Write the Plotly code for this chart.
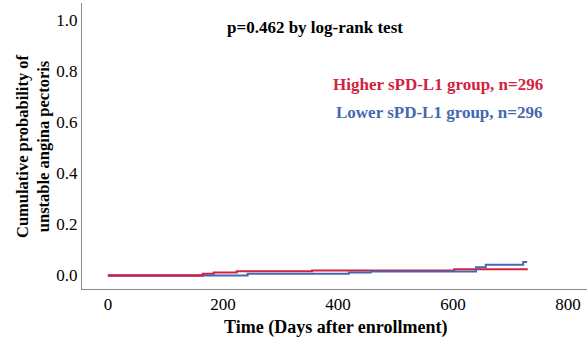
import plotly.graph_objects as go

# Step data (days, cumulative probability)
higher_days = [0, 165, 184, 224, 355, 602, 730]
higher_vals = [0.0, 0.006, 0.011, 0.016, 0.019, 0.024, 0.024]
lower_days = [0, 243, 419, 457, 640, 657, 722, 729]
lower_vals = [0.0, 0.006, 0.011, 0.015, 0.032, 0.042, 0.052, 0.052]

x_ticks = [0, 200, 400, 600, 800]
y_ticks = [0.0, 0.2, 0.4, 0.6, 0.8, 1.0]

RED = "#d3223f"
BLUE = "#4767b0"
FONT = "Liberation Serif"

fig = go.Figure()
fig.add_trace(go.Scatter(x=higher_days, y=higher_vals, mode="lines",
                         line=dict(color=RED, width=2, shape="hv"), showlegend=False))
fig.add_trace(go.Scatter(x=lower_days, y=lower_vals, mode="lines",
                         line=dict(color=BLUE, width=2, shape="hv"), showlegend=False))
fig.add_trace(go.Scatter(x=higher_days[:2], y=higher_vals[:2], mode="lines",
                         line=dict(color=RED, width=2, shape="hv"), showlegend=False))

fig.update_layout(
    width=587, height=343,
    margin=dict(l=82, r=0, t=3, b=54),
    paper_bgcolor="white", plot_bgcolor="white",
    font=dict(family=FONT, size=17, color="black"),
    xaxis=dict(range=[-45, 833], tickvals=x_ticks, ticktext=[str(v) for v in x_ticks],
               showgrid=False, zeroline=False, showline=True, linecolor="#8a8a8a",
               linewidth=1, ticks="", tickfont=dict(family=FONT, size=17)),
    yaxis=dict(range=[-0.0533, 1.067], tickvals=y_ticks, ticktext=[f"{v:.1f}" for v in y_ticks],
               showgrid=False, zeroline=False, showline=True, linecolor="#8a8a8a",
               linewidth=1, ticks="", tickfont=dict(family=FONT, size=17)),
    annotations=[
        dict(text="<b>Time (Days after enrollment)</b>", xref="paper", yref="paper",
             x=(335 - 82) / 505, y=0, yshift=-38, xanchor="center", yanchor="middle",
             showarrow=False, font=dict(family=FONT, size=18)),
        dict(text="<b>Cumulative probability of<br>unstable angina pectoris</b>", textangle=-90,
             xref="paper", yref="paper", x=0, y=0.5, xshift=-49, xanchor="center", yanchor="middle",
             showarrow=False, font=dict(family=FONT, size=16.5), align="center"),
        dict(text="<b>p=0.462 by log-rank test</b>", xref="paper", yref="paper",
             x=(315 - 82) / 505, y=(289 - 27) / 286, xanchor="center", yanchor="middle",
             showarrow=False, font=dict(family=FONT, size=17)),
        dict(text="<b>Higher sPD-L1 group, n=296</b>", xref="paper", yref="paper",
             x=(438 - 82) / 505, y=(289 - 84) / 286, xanchor="center", yanchor="middle",
             showarrow=False, font=dict(family=FONT, size=17, color=RED)),
        dict(text="<b>Lower sPD-L1 group, n=296</b>", xref="paper", yref="paper",
             x=(439 - 82) / 505, y=(289 - 112) / 286, xanchor="center", yanchor="middle",
             showarrow=False, font=dict(family=FONT, size=17, color=BLUE)),
    ],
)

fig.write_html("out.html")
